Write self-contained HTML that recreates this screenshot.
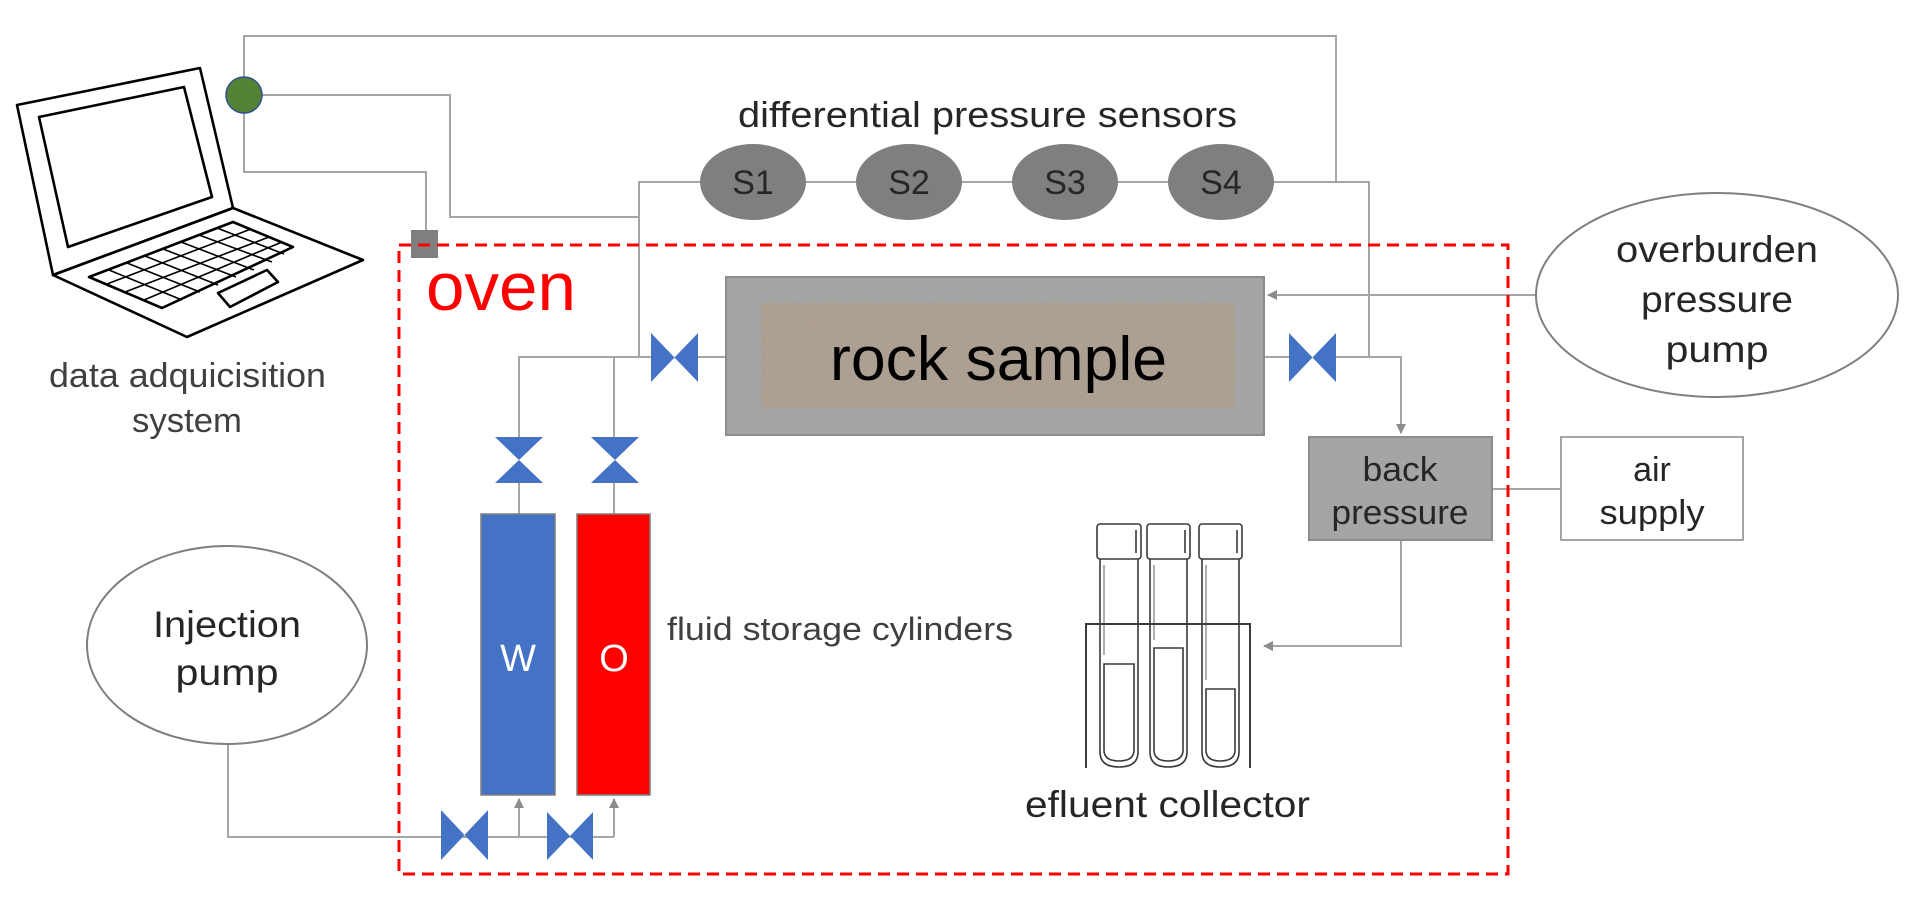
<!DOCTYPE html>
<html><head><meta charset="utf-8"><style>
html,body{margin:0;padding:0;background:#fff;}
svg{display:block;}
text{font-family:"Liberation Sans",sans-serif;}
</style></head><body>
<svg width="1912" height="907" viewBox="0 0 1912 907" xmlns="http://www.w3.org/2000/svg">
<defs>
<filter id="noise" x="0" y="0" width="100%" height="100%">
<feTurbulence type="fractalNoise" baseFrequency="0.9" numOctaves="2" seed="3" result="t"/>
<feColorMatrix in="t" type="matrix" values="0 0 0 0 0.35  0 0 0 0 0.30  0 0 0 0 0.27  0 0 0 -3 1.6" result="c"/>
<feComposite in="c" in2="SourceGraphic" operator="in"/>
</filter>
<marker id="ar" markerWidth="10" markerHeight="10" refX="9" refY="5" orient="auto" markerUnits="userSpaceOnUse">
<path d="M0,0 L10,5 L0,10 z" fill="#8c8c8c"/>
</marker>
</defs>

<g fill="none" stroke="#a6a6a6" stroke-width="2">
<polyline points="244,95 244,36 1336,36 1336,182"/>
<polyline points="262,95 450,95 450,217 639,217"/>
<polyline points="244,113 244,172 426,172 426,230"/>
<polyline points="700,182 639,182 639,357"/>
<line x1="806" y1="182" x2="856" y2="182"/>
<line x1="962" y1="182" x2="1012" y2="182"/>
<line x1="1118" y1="182" x2="1168" y2="182"/>
<polyline points="1274,182 1369,182 1369,357"/>
<polyline points="519,437 519,357 651,357"/>
<line x1="614" y1="357" x2="614" y2="437"/>
<line x1="698" y1="357" x2="758" y2="357" marker-end="url(#ar)"/>
<line x1="1264" y1="357" x2="1289" y2="357"/>
<polyline points="1336,357 1401,357 1401,433" marker-end="url(#ar)"/>
<line x1="1536" y1="295" x2="1268" y2="295" marker-end="url(#ar)"/>
<line x1="1492" y1="489" x2="1561" y2="489"/>
<polyline points="1401,540 1401,646 1264,646" marker-end="url(#ar)"/>
<line x1="519" y1="483" x2="519" y2="514"/>
<line x1="614" y1="483" x2="614" y2="514"/>
<polyline points="228,744 228,837 614,837"/>
<line x1="519" y1="837" x2="519" y2="799" marker-end="url(#ar)"/>
<line x1="614" y1="837" x2="614" y2="799" marker-end="url(#ar)"/>
</g>

<circle cx="244" cy="95" r="18" fill="#548235" stroke="#2f528f" stroke-width="1.5"/>
<rect x="411" y="230" width="27" height="28" fill="#7f7f7f"/>

<g fill="none" stroke="#000" stroke-width="2.6" stroke-linejoin="round">
<polygon points="17,105 200,68 233,208 53,275"/>
<polygon points="39,117 184,87 212,197 68,247"/>
<polygon points="53,275 187,337 363,260 233,208"/>
<polygon points="89,277 233,222 293,247 162,308"/>
<polygon points="218,293 267,270 278,282 230,307"/>
</g>
<g stroke="#000" stroke-width="1.6">
<line x1="107" y1="284" x2="251" y2="229"/>
<line x1="125" y1="292" x2="269" y2="237"/>
<line x1="144" y1="300" x2="282" y2="242"/>
<line x1="109" y1="270" x2="182" y2="300"/>
<line x1="127" y1="263" x2="200" y2="292"/>
<line x1="145" y1="256" x2="218" y2="285"/>
<line x1="163" y1="249" x2="236" y2="277"/>
<line x1="181" y1="242" x2="254" y2="270"/>
<line x1="199" y1="235" x2="272" y2="262"/>
<line x1="217" y1="228" x2="284" y2="254"/>
</g>
<text x="49" y="387" font-size="34" fill="#404040" textLength="277" lengthAdjust="spacingAndGlyphs">data adquicisition</text>
<text x="187" y="432" font-size="34" fill="#404040" text-anchor="middle" textLength="110" lengthAdjust="spacingAndGlyphs">system</text>

<text x="738" y="127" font-size="36" fill="#262626" textLength="499" lengthAdjust="spacingAndGlyphs">differential pressure sensors</text>
<g fill="#7f7f7f">
<ellipse cx="753" cy="182" rx="53" ry="38"/>
<ellipse cx="909" cy="182" rx="53" ry="38"/>
<ellipse cx="1065" cy="182" rx="53" ry="38"/>
<ellipse cx="1221" cy="182" rx="53" ry="38"/>
</g>
<g font-size="34" fill="#262626" text-anchor="middle">
<text x="753" y="194">S1</text><text x="909" y="194">S2</text><text x="1065" y="194">S3</text><text x="1221" y="194">S4</text>
</g>

<rect x="399" y="245" width="1109" height="629" fill="none" stroke="#ff0000" stroke-width="3" stroke-dasharray="12,7"/>
<text x="426" y="310" font-size="68" fill="#ff0000" textLength="150" lengthAdjust="spacingAndGlyphs">oven</text>

<rect x="726" y="277" width="538" height="158" fill="#a5a5a5" stroke="#8c8c8c" stroke-width="2"/>
<rect x="761" y="303" width="474" height="105" fill="#b0a293"/>
<rect x="761" y="303" width="474" height="105" fill="#fff" filter="url(#noise)"/>
<text x="830" y="380" font-size="62" fill="#000" textLength="337" lengthAdjust="spacingAndGlyphs">rock sample</text>

<g fill="#4472c4">
<polygon points="651,333 651,382 698,333 698,382"/>
<polygon points="1289,333 1289,382 1336,333 1336,382"/>
<polygon points="495,437 543,437 495,483 543,483"/>
<polygon points="591,437 639,437 591,483 639,483"/>
<polygon points="441,810 441,860 488,810 488,860"/>
<polygon points="547,812 547,860 593,812 593,860"/>
</g>

<rect x="481" y="514" width="74" height="281" fill="#4472c4" stroke="#7f7f7f" stroke-width="1.5"/>
<rect x="577" y="514" width="73" height="281" fill="#ff0000" stroke="#7f7f7f" stroke-width="1.5"/>
<text x="518" y="671" font-size="38" fill="#fff" text-anchor="middle">W</text>
<text x="614" y="671" font-size="38" fill="#fff" text-anchor="middle">O</text>
<text x="667" y="640" font-size="32" fill="#404040" textLength="346" lengthAdjust="spacingAndGlyphs">fluid storage cylinders</text>

<ellipse cx="227" cy="645" rx="140" ry="99" fill="#fff" stroke="#7f7f7f" stroke-width="2"/>
<text x="227" y="637" font-size="37" fill="#262626" text-anchor="middle" textLength="148" lengthAdjust="spacingAndGlyphs">Injection</text>
<text x="227" y="685" font-size="37" fill="#262626" text-anchor="middle" textLength="103" lengthAdjust="spacingAndGlyphs">pump</text>

<ellipse cx="1717" cy="295" rx="181" ry="102" fill="#fff" stroke="#7f7f7f" stroke-width="2"/>
<text x="1717" y="262" font-size="37" fill="#262626" text-anchor="middle" textLength="202" lengthAdjust="spacingAndGlyphs">overburden</text>
<text x="1717" y="312" font-size="37" fill="#262626" text-anchor="middle" textLength="152" lengthAdjust="spacingAndGlyphs">pressure</text>
<text x="1717" y="362" font-size="37" fill="#262626" text-anchor="middle" textLength="103" lengthAdjust="spacingAndGlyphs">pump</text>

<rect x="1309" y="437" width="183" height="103" fill="#a5a5a5" stroke="#8c8c8c" stroke-width="2"/>
<text x="1400" y="481" font-size="34" fill="#262626" text-anchor="middle" textLength="75" lengthAdjust="spacingAndGlyphs">back</text>
<text x="1400" y="524" font-size="34" fill="#262626" text-anchor="middle" textLength="137" lengthAdjust="spacingAndGlyphs">pressure</text>
<rect x="1561" y="437" width="182" height="103" fill="#fff" stroke="#a6a6a6" stroke-width="2"/>
<text x="1652" y="481" font-size="34" fill="#262626" text-anchor="middle">air</text>
<text x="1652" y="524" font-size="34" fill="#262626" text-anchor="middle" textLength="105" lengthAdjust="spacingAndGlyphs">supply</text>

<g fill="none" stroke="#3a3a3a" stroke-width="1.6">
<rect x="1097" y="524" width="44" height="35" rx="3"/>
<rect x="1147" y="524" width="43" height="35" rx="3"/>
<rect x="1199" y="524" width="43" height="35" rx="3"/>
<path d="M1100,559 V752 Q1100,767 1119,767 Q1138,767 1138,752 V559"/>
<path d="M1150,559 V752 Q1150,767 1168,767 Q1187,767 1187,752 V559"/>
<path d="M1202,559 V752 Q1202,767 1220,767 Q1239,767 1239,752 V559"/>
<path d="M1104,664 H1134 V750 Q1134,761 1119,761 Q1104,761 1104,750 Z"/>
<path d="M1154,648 H1183 V750 Q1183,761 1168,761 Q1154,761 1154,750 Z"/>
<path d="M1206,689 H1235 V750 Q1235,761 1220,761 Q1206,761 1206,750 Z"/>
<line x1="1136" y1="530" x2="1136" y2="553"/><line x1="1185" y1="530" x2="1185" y2="553"/><line x1="1237" y1="530" x2="1237" y2="553"/>
<line x1="1104" y1="565" x2="1104" y2="655" stroke="#999"/><line x1="1154" y1="565" x2="1154" y2="640" stroke="#999"/><line x1="1206" y1="565" x2="1206" y2="680" stroke="#999"/>
</g>
<polyline points="1086,768 1086,624 1250,624 1250,768" fill="none" stroke="#3a3a3a" stroke-width="2"/>
<text x="1025" y="817" font-size="37" fill="#262626" textLength="285" lengthAdjust="spacingAndGlyphs">efluent collector</text>
</svg>
</body></html>
